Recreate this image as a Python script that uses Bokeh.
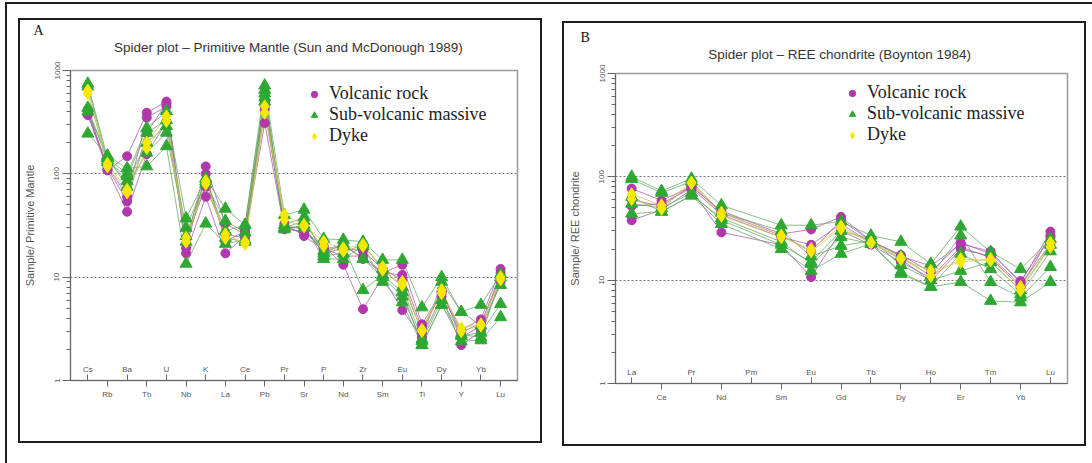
from bokeh.plotting import figure
from bokeh.models import (Range1d, FixedTicker, Legend, LegendItem, Title, PrintfTickFormatter)
from bokeh.layouts import row
from bokeh.core.properties import value
from bokeh.embed import file_html
from bokeh.resources import INLINE

# ---------------- data: Panel A (Primitive Mantle, Sun & McDonough 1989) ----------------
pm_elements = ["Cs", "Rb", "Ba", "Th", "U", "Nb", "K", "La", "Ce", "Pb", "Pr",
               "Sr", "P", "Nd", "Zr", "Sm", "Eu", "Ti", "Dy", "Y", "Yb", "Lu"]
pm_volcanic = [
    [380, 108, 148, 390, 500, 21, 118, 33, 26, 500, 33, 25, 18.5, 20.6, 15, 11, 13.2, 3.5, 7.2, 3.1, 3.9, 12],
    [400, 115, 54, 250, 480, 17, 60, 17, 25, 310, 29, 28, 20, 13.2, 4.9, 10, 4.8, 2.6, 6.5, 2.2, 3.0, 9],
    [420, 110, 43, 155, 320, 24, 75, 26, 24, 420, 31, 30, 17, 19, 18, 12, 9.4, 2.9, 7.5, 2.6, 3.4, 11],
    [370, 120, 60, 350, 450, 19, 100, 22, 28, 450, 30, 27, 19, 16, 16, 11, 10.5, 3.2, 7.0, 2.9, 3.6, 10],
]
pm_subvolcanic = [
    [745, 142, 100, 277, 405, 37, 90, 46, 32, 715, 40, 45, 23.5, 23, 22, 14.7, 14.7, 5.1, 10, 4.6, 5.4, 10.7],
    [435, 135, 85, 200, 290, 30, 85, 28, 32, 600, 30, 35, 18, 20, 7.5, 10.5, 7.2, 2.2, 5.4, 2.7, 2.9, 5.5],
    [245, 150, 113, 118, 185, 13.5, 33, 21, 23, 500, 29, 32, 15, 15, 20, 9, 5.7, 2.2, 5.4, 2.4, 2.45, 4.1],
    [700, 130, 95, 250, 330, 22, 80, 35, 27, 550, 32, 38, 16, 17, 21, 12, 8, 2.5, 9, 4.6, 3.4, 8.4],
    [400, 145, 75, 160, 250, 25, 90, 24, 22, 650, 30, 30, 17, 21, 15, 10, 6.5, 2.4, 6, 2.8, 2.6, 10],
]
pm_dyke = [
    [640, 118, 66, 178, 325, 24, 80, 26, 21, 390, 40, 32, 22, 19, 20.6, 11.8, 8.4, 3.1, 7.5, 3.0, 3.4, 10],
    [600, 125, 70, 200, 360, 22, 85, 24, 22, 450, 36, 31, 20, 18, 20, 12.5, 9, 3.0, 7.0, 3.2, 3.5, 9.5],
]

# ---------------- data: Panel B (REE chondrite, Boynton 1984) ----------------
ree_elements = ["La", "Ce", "Pr", "Nd", "Pm", "Sm", "Eu", "Gd", "Tb", "Dy", "Ho", "Er", "Tm", "Yb", "Lu"]
ree_measured = ["La", "Ce", "Pr", "Nd", "Sm", "Eu", "Gd", "Tb", "Dy", "Ho", "Er", "Tm", "Yb", "Lu"]
ree_volcanic = [
    [77, 59, 80, 47, 28, 31, 41, 24, 17, 13.7, 22.5, 19, 9.4, 29.5],
    [52, 55, 78, 43, 26, 22, 35, 23, 16, 9.8, 20, 17, 9.0, 22.5],
    [38, 48, 75, 29, 22, 10.7, 30, 22, 15, 10.5, 21, 16.5, 8.5, 27],
    [60, 52, 82, 45, 27, 19, 38, 24, 17.5, 12, 23, 18, 9.8, 26],
]
ree_subvolcanic = [
    [100, 73, 96, 53, 34, 34, 37, 27, 23.5, 14.4, 33, 18.7, 12.8, 25],
    [64, 46, 66, 40, 23.5, 14.4, 26, 22.5, 12, 8.6, 18, 12.8, 7.3, 19],
    [44, 46, 66, 35, 20, 12.3, 18, 22.5, 11.5, 8.6, 9.6, 6.3, 6.1, 9.6],
    [95, 70, 90, 45, 30, 17, 21.5, 24, 17, 11, 27, 9.6, 6.8, 13.4],
    [55, 50, 70, 38, 22, 15, 30, 25, 14, 10, 12.3, 15, 8, 22],
]
ree_dyke = [
    [61, 49, 87, 45, 27, 19, 31.6, 23, 16, 12.3, 15, 16, 8.6, 23],
    [68, 53, 88, 42, 26, 20, 33, 23, 16.5, 11, 16, 15.5, 8, 21],
]

groups = ["Volcanic rock", "Sub-volcanic massive", "Dyke"]

MAG = "#b236ac"
GRN = "#2ea832"
YEL = "#f7e800"
STYLE = {
    "Volcanic rock": dict(marker="circle", size=9, color=MAG, line="#a858a6"),
    "Sub-volcanic massive": dict(marker="triangle", size=12, color=GRN, line="#62a862"),
    "Dyke": dict(marker="diamond", size=13, color=YEL, line="#cfc65a"),
}
BOX = "2px solid #1e1e1e"


def make_panel(width, height, fl, fr, ft, fb, elements, measured, data, xr, title, gap,
               letter, letter_offset, ylabel, legend_loc, margin):
    p = figure(width=width, height=height, output_backend="svg", toolbar_location=None,
               y_axis_type="log", x_range=Range1d(*xr), y_range=Range1d(1, 1000),
               min_border_left=fl, min_border_right=fr, min_border_top=ft,
               min_border_bottom=fb, margin=margin, styles={"border": BOX})
    p.background_fill_color = "white"
    p.border_fill_color = "white"
    p.outline_line_color = "#9a9a9a"
    p.outline_line_width = 1.5

    # panel letter (outermost title row)
    p.title.text = letter
    p.title.align = "left"
    p.title.offset = letter_offset
    p.title.standoff = 0
    p.title.text_font = "Liberation Serif"
    p.title.text_font_size = "14px"
    p.title.text_font_style = "normal"
    p.title.text_color = "#111111"
    # blank row between the chart title and the frame
    p.add_layout(Title(text=" ", standoff=gap, text_font_size="9px"), "above")
    # chart title
    p.add_layout(Title(text=title, align="center", standoff=0,
                       text_font="Liberation Sans", text_font_size="13.5px",
                       text_font_style="normal", text_color="#333333"), "above")

    # axes
    n = len(elements)
    odd = [i for i in range(n) if i % 2 == 1]
    even = [i for i in range(n) if i % 2 == 0]
    xa = p.xaxis[0]
    xa.ticker = FixedTicker(ticks=odd, minor_ticks=even)
    xa.major_label_overrides = {i: elements[i] for i in odd}
    xa.major_tick_out = 6
    xa.major_tick_in = 0
    xa.minor_tick_in = 6
    xa.minor_tick_out = 0
    xa.major_label_standoff = 3
    xa.major_label_text_font_size = "8px"
    xa.major_label_text_font = "Liberation Sans"
    xa.major_label_text_color = "#555555"
    xa.axis_line_color = "#666666"
    xa.major_tick_line_color = "#666666"
    xa.minor_tick_line_color = "#666666"

    ya = p.yaxis[0]
    ya.formatter = PrintfTickFormatter(format="%d")
    ya.major_label_orientation = "vertical"
    ya.major_label_text_font_size = "8px"
    ya.major_label_text_font = "Liberation Sans"
    ya.major_label_text_color = "#555555"
    ya.major_label_standoff = 3
    ya.major_tick_out = 8
    ya.major_tick_in = 0
    ya.minor_tick_out = 4
    ya.minor_tick_in = 0
    ya.axis_line_color = "#666666"
    ya.major_tick_line_color = "#666666"
    ya.minor_tick_line_color = "#666666"
    ya.axis_label = ylabel
    ya.axis_label_text_font = "Liberation Sans"
    ya.axis_label_text_font_size = "11px"
    ya.axis_label_text_font_style = "normal"
    ya.axis_label_text_color = "#555555"
    ya.axis_label_standoff = 16

    p.xgrid.visible = False
    p.ygrid.grid_line_color = "#777777"
    p.ygrid.grid_line_dash = "2 2"
    p.ygrid.grid_line_width = 1

    # even element labels sit inside the frame, above their ticks
    p.text(x=even, y=[1] * len(even), text=[elements[i] for i in even],
           text_align="center", text_baseline="bottom", y_offset=-7,
           text_font=value("Liberation Sans"), text_font_size="8px", text_color="#555555")

    xs = [elements.index(e) for e in measured]
    for g in groups:
        st = STYLE[g]
        for vals in data[g]:
            p.line(xs, vals, line_color=st["line"], line_width=1, line_alpha=0.75)
    first = {}
    for g in groups:
        st = STYLE[g]
        for vals in data[g]:
            r = p.scatter(xs, vals, marker=st["marker"], size=st["size"],
                          fill_color=st["color"], line_color=st["color"], line_width=1)
            first.setdefault(g, r)

    legend = Legend(items=[LegendItem(label=g, renderers=[first[g]]) for g in groups],
                    location=legend_loc, orientation="vertical",
                    label_text_font="Liberation Serif", label_text_font_size="18px",
                    label_text_color="#222222", label_height=20, glyph_height=20,
                    glyph_width=16, label_standoff=7, spacing=0, padding=0, margin=0,
                    background_fill_alpha=0, border_line_alpha=0)
    p.add_layout(legend, "center")
    return p


# panel A: outer box 18..542 x 18..443 ; frame 67..515 x 70..378
pA = make_panel(
    width=524, height=425, fl=45, fr=27, ft=50, fb=63,
    elements=pm_elements, measured=pm_elements,
    data={"Volcanic rock": pm_volcanic, "Sub-volcanic massive": pm_subvolcanic, "Dyke": pm_dyke},
    xr=(-0.88, 21.86),
    title="Spider plot \u2013  Primitive Mantle (Sun  and  McDonough 1989)", gap=4,
    letter="A", letter_offset=-37, ylabel="Sample/ Primitive Mantle",
    legend_loc=(236, 234), margin=(14, 0, 0, 11))

# panel B: outer box 562..1086 x 21..446 ; frame 615..1063 x 70..379
pB = make_panel(
    width=524, height=425, fl=51, fr=21, ft=47, fb=65,
    elements=ree_elements, measured=ree_measured,
    data={"Volcanic rock": ree_volcanic, "Sub-volcanic massive": ree_subvolcanic, "Dyke": ree_dyke},
    xr=(-0.54, 14.57),
    title="Spider plot \u2013  REE chondrite (Boynton 1984)", gap=0,
    letter="B", letter_offset=-35, ylabel="Sample/ REE chondrite",
    legend_loc=(229, 238), margin=(17, 0, 0, 20))

layout = row(pA, pB, styles={"border-top": BOX, "border-left": BOX,
                             "margin-left": "5px", "margin-top": "2px",
                             "padding-right": "6px", "padding-bottom": "30px"})
open("out.html", "w").write(file_html(layout, INLINE))
